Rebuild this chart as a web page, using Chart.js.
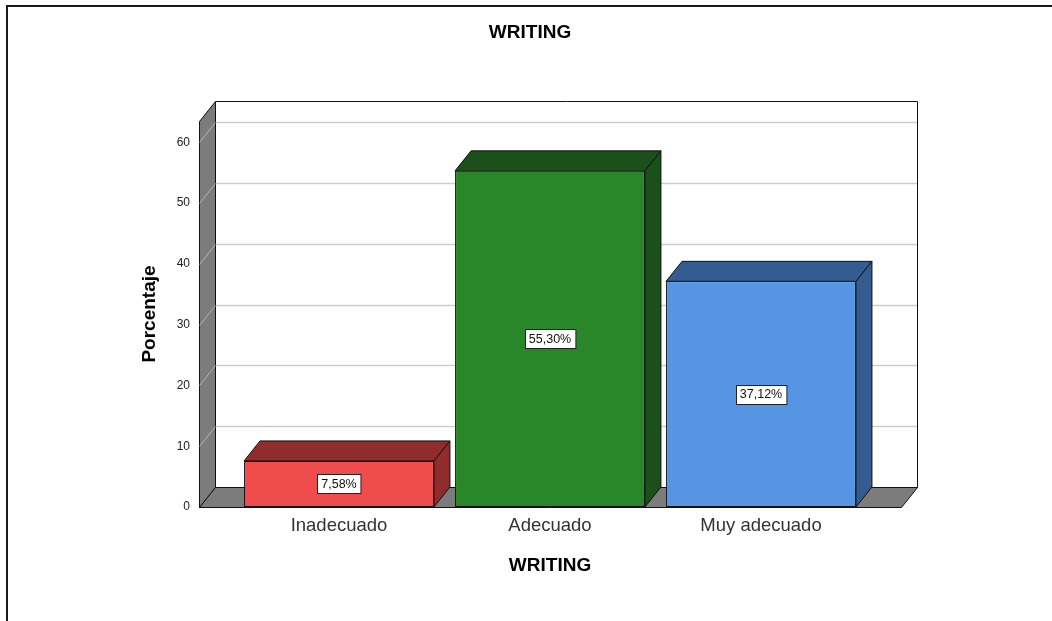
<!DOCTYPE html>
<html>
<head>
<meta charset="utf-8">
<title>WRITING</title>
<script src="https://cdn.jsdelivr.net/npm/chart.js@4/dist/chart.umd.min.js"></script>
<style>
  html, body { margin: 0; padding: 0; background: #fff; }
  #wrap { width: 1052px; height: 621px; position: relative; }
</style>
</head>
<body>
<div id="wrap"><canvas id="myChart" width="1052" height="621"></canvas></div>
<script>
// chart data
var categories = ['Inadecuado', 'Adecuado', 'Muy adecuado'];
var percentages = [7.58, 55.30, 37.12];
var yTicks = [0, 10, 20, 30, 40, 50, 60];

var frontColors = ['#ef4c4d', '#29872a', '#5595e3'];
var shadeColors = ['#912c2c', '#1b501b', '#345c90'];

var FONT = "'Liberation Sans', Arial, sans-serif";
var DX = 16, DY = -20;   // depth of the 3d effect
var EXT = 34.5;          // walls reach past the category area

function fmt(v) {
  return v.toFixed(2).replace('.', ',') + '%';
}

function poly(ctx, pts, fill, stroke, lw) {
  ctx.beginPath();
  ctx.moveTo(pts[0][0], pts[0][1]);
  for (var i = 1; i < pts.length; i++) ctx.lineTo(pts[i][0], pts[i][1]);
  ctx.closePath();
  if (fill) { ctx.fillStyle = fill; ctx.fill(); }
  if (stroke) { ctx.strokeStyle = stroke; ctx.lineWidth = lw || 1; ctx.stroke(); }
}

var threeD = {
  id: 'threeD',
  beforeDraw: function(chart) {
    var ctx = chart.ctx;
    ctx.save();
    ctx.fillStyle = '#fff';
    ctx.fillRect(0, 0, chart.width, chart.height);
    // outer frame
    ctx.strokeStyle = '#1a1a1a';
    ctx.lineWidth = 2;
    ctx.beginPath();
    ctx.moveTo(7, chart.height);
    ctx.lineTo(7, 6);
    ctx.lineTo(chart.width, 6);
    ctx.stroke();
    // title
    ctx.fillStyle = '#000';
    ctx.font = 'bold 19px ' + FONT;
    ctx.textAlign = 'center';
    ctx.textBaseline = 'middle';
    ctx.fillText('WRITING', 530, 33);
    ctx.restore();
  },
  beforeDatasetsDraw: function(chart) {
    var ctx = chart.ctx, a = chart.chartArea, y = chart.scales.y;
    var L = a.left - EXT, R = a.right + EXT, T = a.top, B = a.bottom;
    ctx.save();
    ctx.translate(0.5, 0.5);
    // back wall
    poly(ctx, [[L + DX, T + DY], [R + DX, T + DY], [R + DX, B + DY], [L + DX, B + DY]], '#fff', null);
    ctx.strokeStyle = '#cdcdcd';
    ctx.lineWidth = 1.5;
    yTicks.forEach(function(v) {
      if (v === 0) return;
      var py = Math.round(y.getPixelForValue(v)) + DY;
      ctx.beginPath();
      ctx.moveTo(L + DX, py);
      ctx.lineTo(R + DX, py);
      ctx.stroke();
    });
    poly(ctx, [[L + DX, T + DY], [R + DX, T + DY], [R + DX, B + DY], [L + DX, B + DY]], null, '#111', 1);
    // left wall
    poly(ctx, [[L, T], [L + DX, T + DY], [L + DX, B + DY], [L, B]], '#7c7c7c', '#111', 1);
    ctx.strokeStyle = '#b4b4b4';
    ctx.lineWidth = 1;
    yTicks.forEach(function(v) {
      if (v === 0) return;
      var py = Math.round(y.getPixelForValue(v));
      ctx.beginPath();
      ctx.moveTo(L, py);
      ctx.lineTo(L + DX, py + DY);
      ctx.stroke();
    });
    // floor
    poly(ctx, [[L, B], [R, B], [R + DX, B + DY], [L + DX, B + DY]], '#7c7c7c', '#111', 1);
    ctx.restore();
  },
  afterDatasetsDraw: function(chart) {
    var ctx = chart.ctx;
    var meta = chart.getDatasetMeta(0);
    ctx.save();
    meta.data.forEach(function(bar, i) {
      var p = bar.getProps(['x', 'y', 'base', 'width'], true);
      var l = p.x - p.width / 2, r = p.x + p.width / 2;
      var top = p.y, base = p.base;
      // top and side faces
      poly(ctx, [[l, top], [r, top], [r + DX, top + DY], [l + DX, top + DY]], shadeColors[i], '#111', 1);
      poly(ctx, [[r, top], [r + DX, top + DY], [r + DX, base + DY], [r, base]], shadeColors[i], '#111', 1);
      // value box
      var txt = fmt(percentages[i]);
      ctx.font = '12.5px ' + FONT;
      var w = ctx.measureText(txt).width + 8, h = 19;
      var cy = (top + base) / 2;
      var bx = Math.round(p.x - w / 2) + 0.5, by = Math.round(cy - h / 2) + 0.5;
      ctx.fillStyle = '#fff';
      ctx.fillRect(bx, by, w, h);
      ctx.strokeStyle = '#222';
      ctx.lineWidth = 1;
      ctx.strokeRect(bx, by, w, h);
      ctx.fillStyle = '#111';
      ctx.textAlign = 'center';
      ctx.textBaseline = 'middle';
      ctx.fillText(txt, p.x, cy + 0.5);
    });
    ctx.restore();
  }
};

var ctx = document.getElementById('myChart');
var config = {
  type: 'bar',
  data: {
    labels: categories,
    datasets: [{
      label: 'Porcentaje',
      data: percentages,
      backgroundColor: frontColors,
      borderColor: '#111',
      borderWidth: 1,
      borderSkipped: false,
      barPercentage: 0.9,
      categoryPercentage: 1.0
    }]
  },
  options: {
    responsive: false,
    animation: false,
    layout: { padding: { left: 0, top: 121, right: 185.5, bottom: 0 } },
    plugins: {
      legend: { display: false },
      title: { display: false },
      tooltip: { enabled: false }
    },
    scales: {
      x: {
        type: 'category',
        offset: true,
        grid: { display: false, drawTicks: false },
        border: { display: false },
        ticks: { color: '#333', font: { family: FONT, size: 18.5 }, padding: 7.9 },
        title: {
          display: true,
          text: 'WRITING',
          color: '#000',
          font: { family: FONT, size: 19, weight: 'bold' },
          padding: { top: 0, bottom: 43.6 }
        },
        afterFit: function(scale) { scale.height = 114; }
      },
      y: {
        min: 0,
        max: 63.5,
        grid: { display: false, drawTicks: false },
        border: { display: false },
        ticks: { stepSize: 10, color: '#222', font: { family: FONT, size: 12 }, padding: 43.5 },
        afterBuildTicks: function(scale) {
          scale.ticks = yTicks.map(function(v) { return { value: v }; });
        },
        title: {
          display: true,
          text: 'Porcentaje',
          color: '#000',
          font: { family: FONT, size: 19, weight: 'bold' },
          padding: { top: 138.6, bottom: 0 }
        },
        afterFit: function(scale) { scale.width = 233.5; }
      }
    }
  },
  plugins: [threeD]
};
var myChart = new Chart(ctx, config);
</script>
</body>
</html>
